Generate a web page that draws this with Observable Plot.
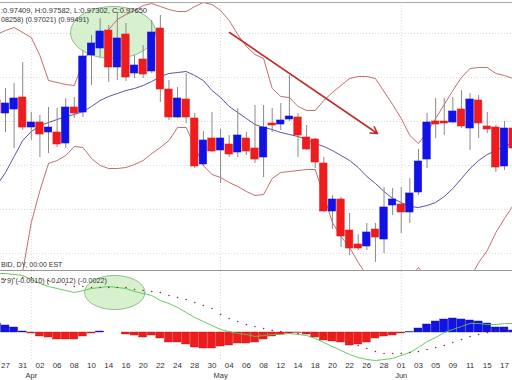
<!DOCTYPE html>
<html><head><meta charset="utf-8">
<script src="https://cdn.jsdelivr.net/npm/d3@7"></script>
<script src="https://cdn.jsdelivr.net/npm/@observablehq/plot@0.6"></script>
<style>
body{margin:0;background:#fff;}
#chart{width:512px;height:380px;overflow:hidden;position:relative;background:#fff;}
#chart svg{display:block;overflow:hidden;}
</style></head><body><div id="chart"></div>
<script>
// ---- data (2009 daily bars) ----
const dates = ["03-26","03-27","03-30","03-31","04-01","04-02","04-03","04-06","04-07","04-08","04-09","04-10","04-13","04-14","04-15","04-16","04-17","04-20","04-21","04-22","04-23","04-24","04-27","04-28","04-29","04-30","05-01","05-04","05-05","05-06","05-07","05-08","05-11","05-12","05-13","05-14","05-15","05-18","05-19","05-20","05-21","05-22","05-25","05-26","05-27","05-28","05-29","06-01","06-02","06-03","06-04","06-05","06-08","06-09","06-10","06-11","06-12","06-15","06-16","06-17","06-18"];
const open  = [.9809,.9796,.9800,.9812,.9782,.9787,.9777,.9777,.9766,.9802,.9797,.9854,.9861,.9879,.9842,.9875,.9836,.9850,.9838,.9881,.9820,.9792,.9810,.9791,.9745,.9771,.9759,.9765,.9757,.9771,.9761,.9752,.9786,.9785,.9790,.9792,.9772,.9770,.9746,.9698,.9710,.9679,.9665,.9663,.9680,.9670,.9704,.9705,.9697,.9717,.9750,.9788,.9788,.9787,.9800,.9781,.9809,.9783,.9782,.9743,.9781];
const high  = [.9819,.9821,.9826,.9847,.9797,.9794,.9802,.9801,.9811,.9812,.9859,.9874,.9891,.9884,.9897,.9886,.9854,.9864,.9889,.9894,.9829,.9822,.9836,.9796,.9778,.9797,.9780,.9774,.9801,.9777,.9804,.9804,.9801,.9806,.9834,.9796,.9784,.9771,.9752,.9714,.9712,.9696,.9675,.9686,.9686,.9722,.9721,.9722,.9731,.9760,.9796,.9811,.9811,.9812,.9819,.9816,.9814,.9797,.9784,.9788,.9789];
const low   = [.9791,.9777,.9761,.9779,.9769,.9752,.9756,.9762,.9761,.9791,.9792,.9824,.9852,.9827,.9829,.9828,.9831,.9831,.9836,.9807,.9789,.9791,.9786,.9741,.9743,.9757,.9726,.9752,.9752,.9754,.9746,.9732,.9777,.9779,.9788,.9752,.9759,.9741,.9697,.9680,.9662,.9654,.9659,.9659,.9647,.9656,.9694,.9676,.9686,.9714,.9741,.9771,.9774,.9786,.9781,.9759,.9771,.9776,.9737,.9739,.9759];
const close = [.9796,.9806,.9811,.9782,.9787,.9775,.9782,.9765,.9802,.9796,.9853,.9866,.9878,.9842,.9871,.9832,.9844,.9835,.9877,.9820,.9792,.9811,.9792,.9743,.9769,.9758,.9771,.9755,.9774,.9758,.9750,.9782,.9784,.9789,.9793,.9774,.9760,.9747,.9698,.9710,.9673,.9661,.9661,.9677,.9672,.9702,.9710,.9697,.9716,.9748,.9787,.9785,.9786,.9798,.9783,.9810,.9786,.9780,.9742,.9781,.9761];
const bbUpper = [.9875,.9879,.9882,.9877,.9872,.9854,.9829,.9827,.9825,.9824,.9847,.9863,.9871,.9880,.9890,.9895,.9899,.9904,.9906,.9903,.9900,.9898,.9898,.9903,.9907,.9905,.9899,.9889,.9875,.9863,.9855,.9851,.9821,.9813,.9812,.9803,.9799,.9799,.9809,.9817,.9824,.9831,.9833,.9833,.9831,.9818,.9805,.9791,.9774,.9766,.9777,.9791,.9805,.9819,.9832,.9841,.9842,.9842,.9836,.9834,.9831];
const bbMiddle = [.9724,.9737,.9753,.9769,.9778,.9784,.9787,.9790,.9793,.9795,.9798,.9803,.9809,.9813,.9816,.9819,.9821,.9824,.9828,.9833,.9836,.9837,.9838,.9834,.9829,.9819,.9812,.9803,.9797,.9791,.9785,.9782,.9780,.9777,.9775,.9773,.9770,.9766,.9763,.9759,.9754,.9749,.9742,.9733,.9726,.9718,.9711,.9707,.9703,.9702,.9704,.9707,.9713,.9721,.9731,.9741,.9749,.9755,.9759,.9763,.9767];
const bbLower = [.9499,.9545,.9592,.9638,.9687,.9719,.9746,.9749,.9754,.9763,.9762,.9751,.9744,.9741,.9741,.9742,.9745,.9749,.9756,.9762,.9769,.9782,.9782,.9763,.9744,.9735,.9732,.9727,.9723,.9718,.9714,.9715,.9731,.9737,.9738,.9739,.9740,.9740,.9714,.9687,.9673,.9662,.9647,.9634,.9619,.9609,.9609,.9619,.9631,.9642,.9631,.9619,.9609,.9609,.9619,.9631,.9647,.9659,.9677,.9691,.9704];
const macd = [.0059,.0059,.0058,.0057,.0053,.0049,.0046,.0044,.0042,.0040,.0042,.0044,.0045,.0046,.0045,.0044,.0041,.0039,.0037,.0032,.0029,.0025,.0020,.0015,.0011,.0007,.0003,.0001,-.0001,-.0002,-.0004,-.0003,-.0002,-.0002,-.0001,-.0002,-.0003,-.0006,-.0010,-.0014,-.0018,-.0022,-.0025,-.0027,-.0028,-.0027,-.0026,-.0023,-.0020,-.0015,-.0009,-.0005,.0000,.0003,.0006,.0009,.0009,.0008,.0008,.0009,.0009];
const signal = [.0052,.0053,.0054,.0055,.0055,.0054,.0052,.0050,.0048,.0046,.0046,.0045,.0045,.0045,.0045,.0045,.0043,.0042,.0041,.0040,.0037,.0035,.0033,.0030,.0027,.0024,.0018,.0014,.0011,.0008,.0006,.0004,.0002,.0001,.0000,-.0001,-.0001,-.0001,-.0002,-.0005,-.0008,-.0010,-.0013,-.0016,-.0019,-.0021,-.0021,-.0021,-.0020,-.0019,-.0017,-.0015,-.0013,-.0010,-.0007,-.0004,-.0002,.0000,.0002,.0004,.0006];
const histogram = [.0009,.0007,.0005,.0001,-.0001,-.0004,-.0005,-.0007,-.0007,-.0007,-.0004,-.0001,.0001,0,0,-.0002,-.0003,-.0005,-.0003,-.0006,-.0010,-.0010,-.0012,-.0015,-.0016,-.0016,-.0014,-.0013,-.0011,-.0011,-.0010,-.0007,-.0004,-.0002,-.0001,-.00005,-.0002,-.0005,-.0008,-.0009,-.0010,-.0013,-.0012,-.0010,-.0006,-.0004,-.0003,-.0001,.00003,.0004,.0008,.0011,.0013,.0014,.0013,.0012,.0011,.0009,.0005,.0005,.0002];

// axis labels (bar index -> label)
const tickIdx = [1,3,5,7,9,11,13,15,17,19,21,23,25,27,29,31,33,35,37,39,41,43,45,47,49,51,53,55,57,59];
const tickLabels = ["27","31","02","06","08","10","14","16","20","22","24","28","30","04","06","08","12","14","18","20","22","26","28","01","03","05","09","11","15","17"];
const monthIdx = [4,26,47];
const monthLabels = ["Apr","May","Jun"];
const gridPrices = [0.9876,0.9832,0.9788,0.9744,0.9700,0.9656];

// texts (as visible in the panel corners)
const headerOHLC = ":0.97409, H:0.97582, L:0.97302, C:0.97650";
const headerBB = "08258) (0.97021) (0.99491)";
const footerMain = "BID, DY, 00:00 EST";
const headerMACD = "5 9) (-0.0010) (-0.0012) (-0.0022)";

// annotations (bar index, value units): [cx, cy, rx, ry]
const ellipseMain = [13.5, 0.9877, 4.94, 0.0026];
const ellipseMacd = [13.7, 0.0040, 3.5, 0.0017];
const trendArrow = [{x1: 27.04, y1: 0.9877, x2: 44.24, y2: 0.9776}];

// scales
const xDomain = [0.4188, 59.933];
const priceDomain = [0.9639, 0.9907];
const macdDomain = [-0.0029, 0.0061];

// ---- build ----
const bars = dates.map((d, k) => ({k, date: d, open: open[k], high: high[k], low: low[k], close: close[k],
  upper: bbUpper[k], middle: bbMiddle[k], lower: bbLower[k], macd: macd[k], signal: signal[k], hist: histogram[k]}));
const up = bars.filter(d => d.close >= d.open);
const down = bars.filter(d => d.close < d.open);
function ellipsePts(e) {
  return d3.range(0, 73).map(j => {
    const t = j / 72 * 2 * Math.PI;
    return {x: e[0] + e[2] * Math.cos(t), y: e[1] + e[3] * Math.sin(t)};
  });
}
const ticks = tickIdx.map((k, i) => ({k, label: tickLabels[i]}));
const months = monthIdx.map((k, i) => ({k, label: monthLabels[i]}));
const FONT = "Liberation Sans, Arial, sans-serif";
const BLUE = "#1212e6", RED = "#ee1c1c";

const main = Plot.plot({
  width: 512, height: 271, marginTop: 2, marginBottom: 1, marginLeft: 0, marginRight: 0,
  x: {domain: xDomain, axis: null},
  y: {domain: priceDomain, axis: null},
  style: {fontFamily: FONT, background: "#fff"},
  marks: [
    Plot.ruleY(gridPrices, {stroke: "#c8c8c8", strokeDasharray: "1,2", strokeWidth: 0.7}),
    Plot.ruleX(monthIdx, {stroke: "#c8c8c8", strokeDasharray: "1,2", strokeWidth: 0.7}),
    Plot.line(ellipsePts(ellipseMain), {x: "x", y: "y", curve: "linear-closed", fill: "#cdeec3", fillOpacity: 0.8, stroke: "#6f9d6f", strokeWidth: 0.7}),
    Plot.line(bars, {x: "k", y: "upper", stroke: "#b54848", strokeWidth: 0.8, clip: true}),
    Plot.line(bars, {x: "k", y: "lower", stroke: "#b54848", strokeWidth: 0.8, clip: true}),
    Plot.line(bars, {x: "k", y: "middle", stroke: "#2b2b8c", strokeWidth: 0.8, clip: true}),
    Plot.ruleX(bars, {x: "k", y1: "low", y2: "high", stroke: "#8a8a8a", strokeWidth: 1, clip: true}),
    Plot.rect(up, {x1: d => d.k - 0.43, x2: d => d.k + 0.43, y1: "open", y2: "close", fill: BLUE, stroke: BLUE, strokeWidth: 0.6, clip: true}),
    Plot.rect(down, {x1: d => d.k - 0.43, x2: d => d.k + 0.43, y1: "open", y2: "close", fill: RED, stroke: RED, strokeWidth: 0.6, clip: true}),
    Plot.arrow(trendArrow, {x1: "x1", y1: "y1", x2: "x2", y2: "y2", stroke: "#c42a2a", strokeWidth: 1.6, headLength: 7}),
    Plot.text([headerOHLC], {text: d => d, frameAnchor: "top-left", textAnchor: "start", dx: 0.5, dy: 5, fontSize: 7.6, fill: "#333"}),
    Plot.text([headerBB], {text: d => d, frameAnchor: "top-left", textAnchor: "start", dx: 0.5, dy: 14, fontSize: 7.2, fill: "#333"}),
    Plot.text([footerMain], {text: d => d, frameAnchor: "bottom-left", textAnchor: "start", dx: 0.5, dy: -4, fontSize: 7, fill: "#333"}),
    Plot.ruleY([priceDomain[1]], {stroke: "#aaa"}),
    Plot.ruleY([priceDomain[0]], {stroke: "#999"})
  ]
});

const lower = Plot.plot({
  width: 512, height: 109, marginTop: 0, marginBottom: 19, marginLeft: 0, marginRight: 0,
  x: {domain: xDomain, axis: null},
  y: {domain: macdDomain, axis: null},
  style: {fontFamily: FONT, background: "#fff"},
  marks: [
    Plot.ruleX(monthIdx, {stroke: "#c8c8c8", strokeDasharray: "1,2", strokeWidth: 0.7}),
    Plot.line(ellipsePts(ellipseMacd), {x: "x", y: "y", curve: "linear-closed", fill: "#cdeec3", fillOpacity: 0.8, stroke: "#6f9d6f", strokeWidth: 0.7}),
    Plot.rect(bars.filter(d => d.hist > 0), {x1: d => d.k - 0.46, x2: d => d.k + 0.46, y1: 0, y2: "hist", fill: BLUE, stroke: "#0a0a9a", strokeWidth: 0.4, clip: true}),
    Plot.rect(bars.filter(d => d.hist < 0), {x1: d => d.k - 0.46, x2: d => d.k + 0.46, y1: 0, y2: "hist", fill: RED, stroke: "#c01010", strokeWidth: 0.4, clip: true}),
    Plot.line(bars, {x: "k", y: "macd", stroke: "#55c455", strokeWidth: 0.9, clip: true}),
    Plot.dot(bars, {x: "k", y: "signal", r: 0.8, fill: "#8b2a2a", stroke: null, clip: true}),
    Plot.text([headerMACD], {text: d => d, frameAnchor: "top-left", textAnchor: "start", dx: 0.5, dy: 6, fontSize: 7.2, fill: "#333"}),
    Plot.text(ticks, {x: "k", text: "label", frameAnchor: "bottom", dy: 6, fontSize: 8, fill: "#333"}),
    Plot.text(months, {x: "k", text: "label", frameAnchor: "bottom", dy: 16, fontSize: 7.5, fill: "#333"})
  ]
});

const host = document.getElementById("chart");
host.appendChild(main);
host.appendChild(lower);
</script>
</body></html>
